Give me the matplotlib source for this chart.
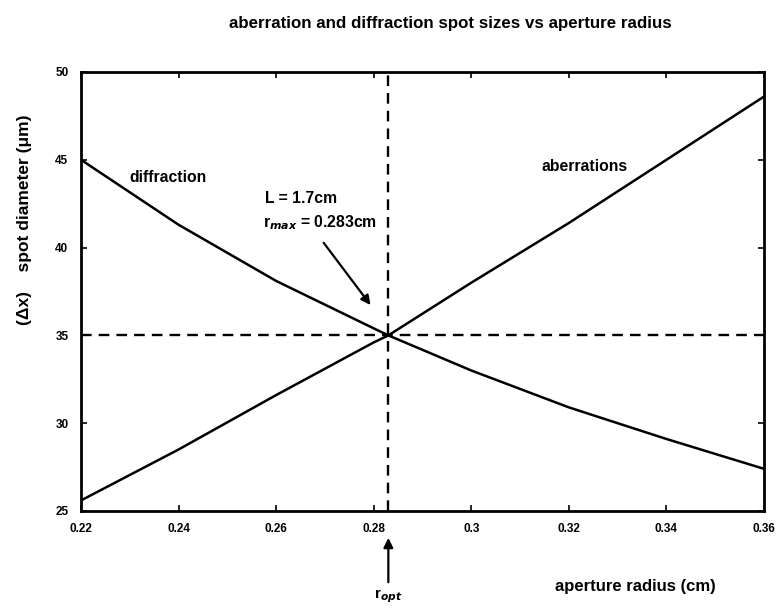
import numpy as np
import matplotlib.pyplot as plt

plt.rcParams['font.family'] = ['Liberation Sans', 'DejaVu Sans']
plt.rcParams['font.weight'] = 'bold'
plt.rcParams['axes.labelweight'] = 'bold'
plt.rcParams['mathtext.default'] = 'bf'

# values
radius = [0.22, 0.24, 0.26, 0.28, 0.283, 0.30, 0.32, 0.34, 0.36]
diffraction = [45.0, 41.3, 38.1, 35.4, 35.0, 33.0, 30.9, 29.1, 27.4]
aberrations = [25.6, 28.5, 31.6, 34.6, 35.0, 38.0, 41.4, 45.0, 48.6]
r_opt = 0.283
spot_opt = 35.0
xticks = [0.22, 0.24, 0.26, 0.28, 0.3, 0.32, 0.34, 0.36]
xticklabels = ['0.22', '0.24', '0.26', '0.28', '0.3', '0.32', '0.34', '0.36']
yticks = [25, 30, 35, 40, 45, 50]


fig = plt.figure(figsize=(7.84, 6.11), dpi=100)
ax = fig.add_axes([0.1033, 0.1637, 0.8712, 0.7185])

ax.plot(radius, diffraction, color='black', lw=1.8)
ax.plot(radius, aberrations, color='black', lw=1.8)
ax.axvline(r_opt, color='black', lw=1.7, ls=(0, (4.5, 3)))
ax.axhline(spot_opt, color='black', lw=1.7, ls=(0, (4.5, 3)))

ax.set_xlim(0.22, 0.36)
ax.set_ylim(25, 50)
ax.set_xticks(xticks)
ax.set_xticklabels(xticklabels)
ax.set_yticks(yticks)
ax.tick_params(direction='in', length=4, width=1.2, top=True, right=True,
               labelsize=8.5, pad=9)
for s in ax.spines.values():
    s.set_linewidth(2)

ax.text(0.2378, 44.0, 'diffraction', ha='center', va='center', fontsize=11.3)
ax.text(0.3233, 44.6, 'aberrations', ha='center', va='center', fontsize=11.3)
ax.text(0.2577, 42.8, 'L = 1.7cm', ha='left', va='center', fontsize=11.3)
ax.text(0.2573, 41.4, r'r$_{\mathit{max}}$ = 0.283cm', ha='left', va='center', fontsize=11.3)

ax.annotate('', xy=(0.2797, 36.6), xytext=(0.2694, 40.4),
            arrowprops=dict(arrowstyle='-|>', color='black', lw=1.6, mutation_scale=14))
ax.annotate(r'r$_{\mathit{opt}}$', xy=(r_opt, -0.055), xytext=(r_opt, -0.175),
            xycoords=('data', 'axes fraction'), textcoords=('data', 'axes fraction'),
            ha='center', va='top', fontsize=11,
            arrowprops=dict(arrowstyle='-|>', color='black', lw=1.6, mutation_scale=14))

ax.set_xlabel('aperture radius (cm)', fontsize=12)
ax.xaxis.set_label_coords(0.811, -0.155)
ax.set_ylabel('(Δx)    spot diameter (μm)', fontsize=12.5)
ax.yaxis.set_label_coords(-0.072, 0.663)

fig.text(0.575, 0.961, 'aberration and diffraction spot sizes vs aperture radius',
         ha='center', va='center', fontsize=12.2, fontweight='bold')

plt.savefig('out.png', dpi=100)
